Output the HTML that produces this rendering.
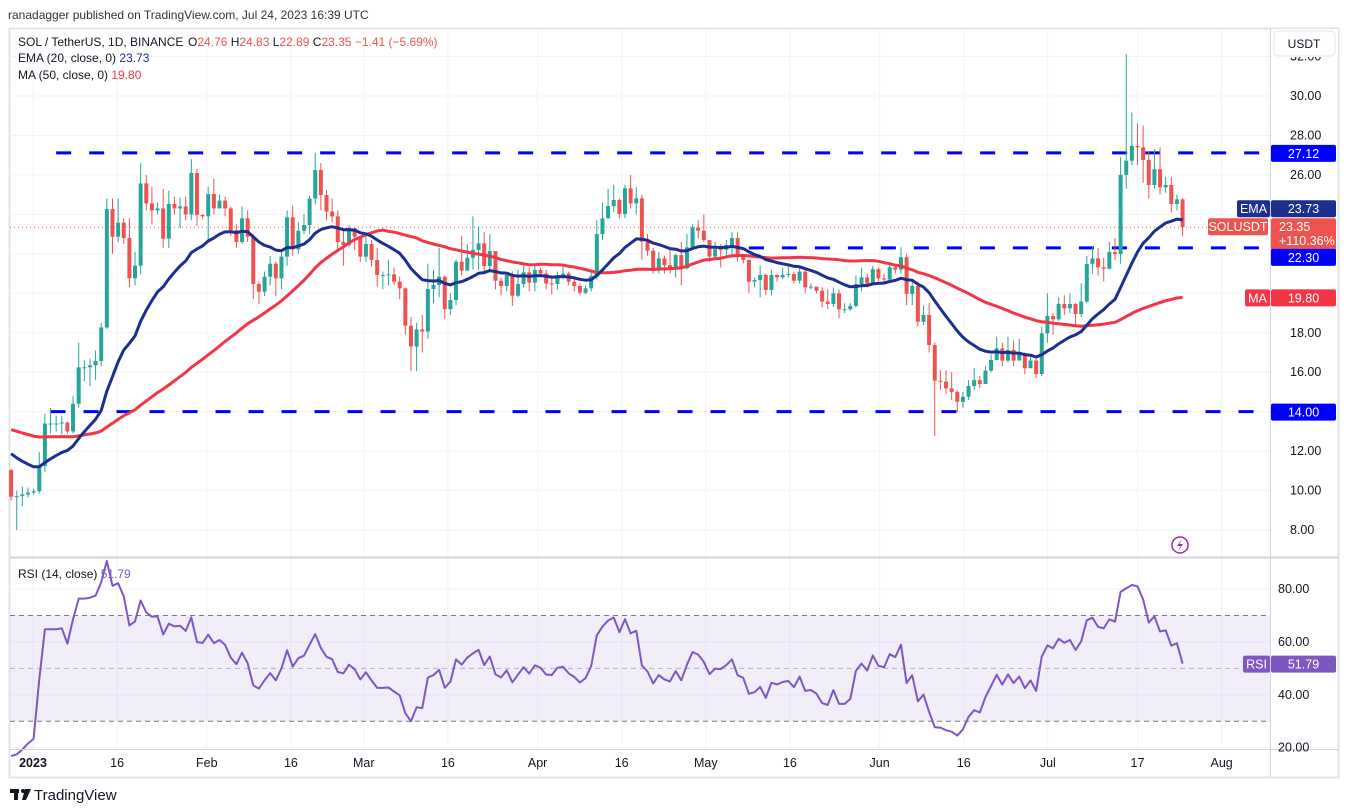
<!DOCTYPE html>
<html><head><meta charset="utf-8"><style>
html,body{margin:0;padding:0;background:#fff;width:1348px;height:812px;overflow:hidden}
svg{display:block;font-family:"Liberation Sans",sans-serif}
</style></head><body>
<svg id="chart" width="1348" height="812" xmlns="http://www.w3.org/2000/svg">
<rect width="1348" height="812" fill="#fff"/>
<text x="8" y="19" font-size="12" fill="#333">ranadagger published on TradingView.com, Jul 24, 2023 16:39 UTC</text>
<rect x="9.5" y="28.5" width="1329" height="749" fill="none" stroke="#e0e3eb" stroke-width="2"/>
<g id="grid"></g>
<g id="levels"></g>
<g id="candles"></g>
<g id="lines"></g>
<g id="rsi"></g>
<line x1="1270.5" y1="29" x2="1270.5" y2="777" stroke="#d1d4dc" stroke-width="1"/>
<line x1="10" y1="557.5" x2="1338" y2="557.5" stroke="#d1d4dc" stroke-width="2"/>
<line x1="10" y1="749.5" x2="1338" y2="749.5" stroke="#d1d4dc" stroke-width="1"/>
<g id="axes"></g>
<g font-size="12">
<text x="18" y="46" fill="#131722">SOL / TetherUS, 1D, BINANCE</text>
<text x="188" y="46" fill="#131722">O<tspan fill="#ef5350">24.76</tspan> H<tspan fill="#ef5350">24.83</tspan> L<tspan fill="#ef5350">22.89</tspan> C<tspan fill="#ef5350">23.35 −1.41 (−5.69%)</tspan></text>
<text x="18" y="62" fill="#131722">EMA (20, close, 0) <tspan fill="#1c2e8f">23.73</tspan></text>
<text x="18" y="79" fill="#131722">MA (50, close, 0) <tspan fill="#f23645">19.80</tspan></text>
<text x="18" y="578" fill="#131722">RSI (14, close) <tspan fill="#7e57c2">51.79</tspan></text>
</g>
<g><circle cx="1180" cy="545" r="8" fill="none" stroke="#9c27b0" stroke-width="1.5"/><path d="M1182 539 L1177 546 L1180.5 546 L1178 551 L1183 544 L1179.5 544 Z" fill="#9c27b0"/></g>
<g><rect x="10" y="789" width="9" height="4" fill="#131722"/><rect x="14" y="789" width="4" height="11" fill="#131722"/><circle cx="23" cy="791" r="2" fill="#131722"/><path d="M25 789 L31 789 L26 800 L22 800 Z" fill="#131722"/><text x="34" y="800" font-size="15" fill="#131722">TradingView</text></g>
</svg>
<script>
const priorCloses=[14.1,13.9,14.2,13.8,14.0,13.5,13.0,12.9,13.4,13.2,13.7,14.0,13.9,14.1,14.0,13.8,13.6,13.9,13.7,13.5,13.4,13.6,13.8,13.9,13.7,13.8,13.6,13.9,14.0,13.8,13.6,13.4,13.6,13.4,13.7,13.9,13.5,13.2,12.5,12.2,12.0,11.9,11.7,11.5,11.3,11.2,11.1,11.3,11.2,11.04];
const closes=[9.69,9.72,9.8,9.9,9.97,11.25,13.4,13.4,13.4,13.45,13.0,14.4,16.25,16.25,16.35,16.57,18.27,24.27,22.87,23.58,22.8,20.76,21.4,25.57,24.56,24.2,24.3,22.77,24.53,24.3,24.4,24.0,26.1,23.97,23.9,25.03,24.3,24.7,24.3,23.2,22.6,23.8,22.87,20.47,20.08,20.84,21.5,20.76,21.86,23.85,22.23,23.17,23.46,24.8,26.25,24.98,24.14,23.9,22.6,22.45,23.3,22.87,21.86,22.5,21.69,20.93,20.93,20.96,20.59,20.25,18.36,17.3,18.17,18.06,20.22,20.42,20.84,19.2,19.66,21.6,21.15,21.8,22.2,22.53,21.38,22.14,20.64,20.37,20.93,19.88,20.47,21.06,20.54,21.18,21.0,20.5,20.47,20.93,21.0,20.59,20.37,20.03,20.25,20.88,23.0,23.8,24.42,24.73,24.02,25.32,24.56,24.81,22.62,22.16,21.18,21.77,21.43,21.27,21.94,21.27,22.33,23.34,23.17,22.7,21.86,22.23,22.2,22.45,22.8,21.86,21.69,20.59,20.67,20.93,20.17,20.93,20.81,20.93,20.98,20.64,21.1,20.3,20.34,20.13,19.58,19.46,20.0,19.19,19.19,19.36,20.47,20.81,20.5,21.22,20.76,20.7,21.32,21.2,21.83,19.97,20.37,18.56,18.9,17.38,15.57,15.52,15.18,15.0,14.5,14.76,15.3,15.6,15.4,16.08,16.62,17.21,16.59,17.13,16.59,16.93,16.2,16.59,15.91,17.97,18.85,18.68,19.46,19.24,19.46,18.95,19.58,21.49,21.77,21.32,21.25,22.09,21.99,26.0,26.72,27.47,27.4,26.76,25.49,26.29,25.37,25.49,24.53,24.76,23.35];
const highs=[11.1,10.0,10.2,10.15,10.1,11.95,13.9,14.2,13.8,13.8,13.5,14.8,17.5,16.6,16.7,17.1,18.5,24.8,24.8,24.8,23.8,23.8,22.1,26.6,26.0,25.4,24.6,25.3,25.2,24.9,24.85,24.9,26.8,26.3,24.0,25.4,25.8,25.0,24.9,24.4,23.5,24.4,24.2,23.0,20.6,21.1,21.9,21.6,22.2,24.2,24.45,23.6,24.0,24.95,27.12,26.6,25.25,24.8,24.2,23.2,23.45,23.3,22.9,22.9,22.7,22.3,21.1,21.7,21.3,20.85,20.3,18.8,18.5,18.9,21.5,21.2,22.3,20.9,20.0,21.7,22.9,22.5,23.9,23.4,23.1,23.0,21.9,20.8,21.0,21.1,21.2,21.4,21.3,21.5,21.3,21.2,20.8,21.1,21.4,21.1,20.7,20.5,20.4,21.1,23.7,24.6,25.3,25.5,24.8,25.5,26.0,25.4,25.0,23.0,22.3,22.1,21.9,22.3,22.0,22.6,23.0,23.5,23.7,24.0,22.5,22.6,22.5,22.7,23.1,23.1,22.0,21.7,20.8,21.4,21.0,21.2,20.95,21.3,21.4,21.1,21.3,21.2,20.5,20.3,20.3,20.2,20.3,20.2,19.5,19.5,20.9,21.3,21.0,21.4,21.3,21.0,21.6,21.5,22.33,22.0,20.6,20.6,19.4,19.5,17.5,16.1,16.1,16.0,15.1,15.0,15.6,16.2,15.8,16.3,16.9,17.8,17.5,17.8,17.6,17.7,17.0,16.8,16.7,18.3,20.0,19.0,19.8,19.9,20.0,19.5,20.5,21.9,22.4,22.3,21.8,22.6,22.8,26.9,32.13,29.16,28.6,28.5,27.2,27.3,27.4,25.9,25.9,25.0,24.83];
const lows=[9.5,8.0,9.2,9.65,9.8,9.85,10.95,12.9,13.0,12.85,12.9,12.9,14.2,15.55,15.3,15.6,16.3,18.2,22.0,22.6,22.5,20.3,20.4,20.95,24.2,23.5,24.0,22.3,22.3,24.0,23.3,23.7,23.7,23.4,23.75,22.6,24.0,24.3,23.9,22.9,22.3,22.5,22.6,19.7,19.45,19.85,20.4,19.85,20.2,21.4,21.9,22.0,23.0,23.0,24.5,24.2,23.7,23.6,22.2,21.4,22.35,22.2,21.6,21.6,21.35,20.35,20.2,20.4,20.4,19.7,17.9,16.05,16.05,17.0,17.7,19.5,19.8,18.7,18.9,19.4,20.9,21.3,21.2,21.2,21.1,21.2,20.2,19.9,20.1,19.35,19.8,20.3,20.1,20.1,20.9,20.2,19.95,20.2,20.7,20.4,20.1,19.9,19.95,20.1,20.7,22.7,23.8,24.1,23.8,23.8,24.3,24.0,21.7,21.9,21.0,21.0,21.0,21.0,20.8,20.4,21.2,22.4,22.8,22.6,21.6,21.8,21.3,21.9,21.8,21.6,21.5,20.0,20.3,19.8,19.9,19.9,20.6,20.7,20.8,20.5,20.5,20.0,20.2,20.0,19.3,19.2,19.3,18.75,19.0,19.1,19.3,20.1,20.3,20.6,20.6,20.5,20.6,21.0,21.0,19.4,19.4,18.3,18.4,17.0,12.77,15.1,14.9,14.6,14.0,14.2,14.6,15.1,15.2,15.4,16.0,16.6,16.3,16.5,16.3,16.7,15.9,16.3,15.7,15.8,17.5,17.9,18.6,18.9,19.0,18.4,18.8,19.5,21.0,20.9,20.6,21.2,21.7,21.5,25.3,26.5,26.5,25.6,24.8,25.3,25.0,25.1,24.1,24.2,22.89];
const firstOpen=11.04;
const firstDay=-3;
const priceTicks=[32,30,28,26,18,16,12,10,8];
const rsiTicks=[80,60,40,20];
const timeLabels=["2023","16","Feb","16","Mar","16","Apr","16","May","16","Jun","16","Jul","17","Aug"];
const timeLabelDays=[0,15,31,46,59,74,90,105,120,135,151,166,181,197,212];
const levelValues=[27.12,22.30,14.00];
const levelStartDays=[5,128,4];

const NS="http://www.w3.org/2000/svg";
const X0=33,PX=5.632;
function xDay(d){return X0-5+d*PX;}
function xLabel(d){return X0+d*PX*0.9955;}
function yP(p){return 96+(30-p)*19.73;}
function yR(r){return 589+(80-r)*2.645;}
function mk(tag,attrs,parent){const e=document.createElementNS(NS,tag);for(const k in attrs)e.setAttribute(k,attrs[k]);parent.appendChild(e);return e;}
const G=id=>document.getElementById(id);

const grid=G('grid');
priceTicks.concat([24,22,20,14]).forEach(p=>{const l=mk('line',{x1:10,x2:1270,y1:yP(p),y2:yP(p),stroke:'#f0f3fa','stroke-width':1},grid);});
[80,60,40,20].forEach(r=>{const l=mk('line',{x1:10,x2:1270,y1:yR(r),y2:yR(r),stroke:'#f0f3fa'},grid);});
timeLabelDays.forEach(d=>{const l=mk('line',{x1:xLabel(d),x2:xLabel(d),y1:29,y2:749,stroke:'#f0f3fa'},grid);});

const lv=G('levels');
levelValues.forEach((v,i)=>{const l=mk('line',{x1:xDay(levelStartDays[i]),x2:1270,y1:yP(v),y2:yP(v),stroke:'#0000ff','stroke-width':3,'stroke-dasharray':'15 18'},lv);});
const cur=closes[closes.length-1];
const pl=mk('line',{x1:10,x2:1270,y1:yP(cur),y2:yP(cur),stroke:'#ef5350','stroke-width':1,'stroke-dasharray':'1 3'},lv);



const cg=G('candles');
closes.forEach((c,i)=>{
  const o=i===0?firstOpen:closes[i-1];
  const x=xDay(firstDay+i);
  const col=c>=o?'#26a69a':'#ef5350';
  const g=mk('g',{},cg);
  
  
  mk('line',{x1:x,x2:x,y1:yP(highs[i]),y2:yP(lows[i]),stroke:col,'stroke-width':1},g);
  const t=Math.min(yP(o),yP(c)),h=Math.max(1,Math.abs(yP(o)-yP(c)));
  mk('rect',{x:x-2,y:t,width:4,height:h,fill:col},g);
});

const all=priorCloses.concat(closes);
const P=priorCloses.length;
let ema=all.slice(0,20).reduce((a,b)=>a+b,0)/20;const emaArr=[];
for(let i=20;i<all.length;i++){ema=(all[i]-ema)*2/21+ema;if(i>=P)emaArr.push(ema);}
const maArr=[];
for(let i=P;i<all.length;i++){let s=0;for(let k=i-49;k<=i;k++)s+=all[k];maArr.push(s/50);}
let ag=0,al=0;for(let i=1;i<=14;i++){const d=all[i]-all[i-1];if(d>0)ag+=d;else al-=d;}ag/=14;al/=14;
const rsiArr=[];
for(let i=15;i<all.length;i++){const d=all[i]-all[i-1];ag=(ag*13+Math.max(d,0))/14;al=(al*13+Math.max(-d,0))/14;if(i>=P)rsiArr.push(100-100/(1+ag/al));}
function path(arr,fy){return arr.map((v,i)=>(i?'L':'M')+xDay(firstDay+i).toFixed(1)+' '+fy(v).toFixed(1)).join(' ');}
const lg=G('lines');
const maP=mk('path',{d:path(maArr,yP),fill:'none',stroke:'#f23645','stroke-width':3,'stroke-linejoin':'round'},lg);


const emP=mk('path',{d:path(emaArr,yP),fill:'none',stroke:'#1c2e8f','stroke-width':3,'stroke-linejoin':'round'},lg);



const rg=G('rsi');
const band=mk('rect',{x:10,y:yR(70),width:1260,height:yR(30)-yR(70),fill:'#7e57c2','fill-opacity':0.1},rg);


[70,50,30].forEach(r=>{const l=mk('line',{x1:10,x2:1270,y1:yR(r),y2:yR(r),stroke:r===50?'#b2b5be':'#787b86','stroke-dasharray':'5 4'},rg);});
const rp=mk('path',{d:path(rsiArr,yR),fill:'none',stroke:'#7e57c2','stroke-width':2,'stroke-linejoin':'round'},rg);



const ax=G('axes');
priceTicks.forEach(p=>{const t=mk('text',{x:1290,y:yP(p)+4,'font-size':12.5,fill:'#131722'},ax);t.textContent=p.toFixed(2);});
mk('rect',{x:1271,y:29,width:67,height:28,fill:'#fff'},ax);
const ub=mk('rect',{x:1274,y:31,width:61,height:25,rx:4,fill:'#fff',stroke:'#e0e3eb'},ax);


const ut=mk('text',{x:1304,y:48,'font-size':12,'text-anchor':'middle',fill:'#131722'},ax);ut.textContent='USDT';
rsiTicks.forEach(r=>{const t=mk('text',{x:1278,y:yR(r)+4,'font-size':12.5,fill:'#131722'},ax);t.textContent=r.toFixed(2);});
timeLabels.forEach((s,i)=>{const t=mk('text',{x:xLabel(timeLabelDays[i]),y:767,'font-size':12.5,'text-anchor':'middle',fill:'#131722','font-weight':i===0?'bold':'normal'},ax);t.textContent=s;});
function tag(x,y,w,h,bg,txt,name){const g=mk('g',{},ax);mk('rect',{x:x,y:y,width:w,height:h,rx:2,fill:bg},g);const t=mk('text',{x:x+w/2,y:y+h/2+4.5,'font-size':12.5,'text-anchor':'middle',fill:'#fff'},g);t.textContent=txt;return g;}
tag(1271,yP(levelValues[0])-8,65,17,'#0000ff',levelValues[0].toFixed(2),'level-label-high');
const priceTagY=yP(cur)-9;
tag(1237,priceTagY-18,33,17,'#1c2e8f','EMA','ema-name-tag');
tag(1271,priceTagY-18,65,17,'#1c2e8f','23.73','ema-value-tag');
tag(1208,priceTagY,60,17,'#ef5350','SOLUSDT','symbol-tag');
const pg=mk('g',{},ax);


mk('rect',{x:1271,y:priceTagY,width:65,height:45,rx:2,fill:'#ef5350'},pg);
[['23.35','#fff'],['+110.36%','#fff'],['07:20:45','#fbd3d2']].forEach((a,i)=>{const t=mk('text',{x:1279,y:priceTagY+13+i*14,'font-size':12.5,fill:a[1]},pg);t.textContent=a[0];});
tag(1271,yP(levelValues[1])+1,65,17,'#0000ff',levelValues[1].toFixed(2),'level-label-mid');
tag(1245,yP(maArr[maArr.length-1])-8,25,17,'#f23645','MA','ma-name-tag');
tag(1271,yP(maArr[maArr.length-1])-8,65,17,'#f23645','19.80','ma-value-tag');
tag(1271,yP(levelValues[2])-8,65,17,'#0000ff',levelValues[2].toFixed(2),'level-label-low');
tag(1243,yR(rsiArr[rsiArr.length-1])-8,27,17,'#7e57c2','RSI','rsi-name-tag');
tag(1271,yR(rsiArr[rsiArr.length-1])-8,65,17,'#7e57c2','51.79','rsi-value-tag');
</script>
</body></html>
